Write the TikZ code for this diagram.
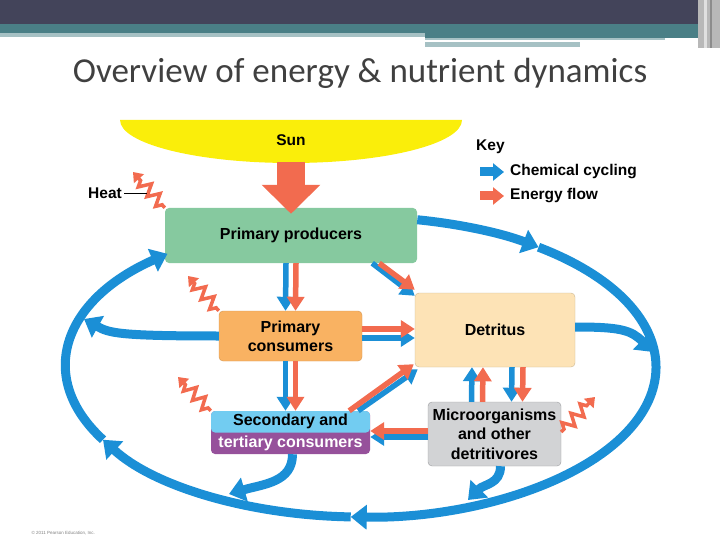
\documentclass[tikz,border=0pt]{standalone}
\usepackage{fontspec}
\setmainfont{Liberation Sans}
\newfontfamily\titlefont{Carlito}
\usetikzlibrary{
  arrows.meta,
  positioning,
  calc,
  decorations.pathmorphing
}
\definecolor{ecoCyc}{HTML}{1B8FD6}
\definecolor{ecoEn}{HTML}{F26B4F}
\definecolor{ecoSun}{HTML}{FAEE0A}
\definecolor{ecoProd}{HTML}{86C99F}
\definecolor{ecoPrim}{HTML}{F9B262}
\definecolor{ecoDetr}{HTML}{FDE3B6}
\definecolor{ecoSec}{HTML}{72CCF1}
\definecolor{ecoTert}{HTML}{96519B}
\definecolor{ecoMicro}{HTML}{D2D3D5}
\definecolor{hdDark}{HTML}{43445A}
\definecolor{hdTeal}{HTML}{4A7F86}
\definecolor{hdLight}{HTML}{A6C1C4}
\definecolor{ecoTitle}{HTML}{404040}
\tikzset{
  econode/.style={
    rounded corners=4pt, inner sep=0pt, align=center,
    font=\fontsize{16}{19}\selectfont\bfseries
  },
  prodbox/.style={econode, fill=ecoProd, minimum width=252pt, minimum height=55pt},
  primbox/.style={econode, fill=ecoPrim, draw=ecoPrim!85!black, line width=0.4pt, minimum width=143pt, minimum height=50pt},
  detrbox/.style={econode, fill=ecoDetr, draw=ecoDetr!80!black, line width=0.4pt, minimum width=160pt, minimum height=74pt},
  secbox/.style={econode, fill=ecoTert, minimum width=159pt, minimum height=43pt,
    font=\fontsize{16}{21.5}\selectfont\bfseries,
    path picture={\fill[ecoSec] (path picture bounding box.north west) rectangle (path picture bounding box.east);}},
  microbox/.style={econode, fill=ecoMicro, draw=ecoMicro!75!black, line width=0.4pt, minimum width=133pt, minimum height=64pt,
    font=\fontsize{16}{19.5}\selectfont\bfseries},
  keytext/.style={font=\fontsize{15.5}{18}\selectfont\bfseries, inner sep=0pt},
  cyc/.style={draw=ecoCyc, line width=9pt, -{Triangle[length=16pt, width=24pt]}},
  pairarr/.style={line width=5.5pt, -{Triangle[length=14pt, width=17pt]}},
  en/.style={pairarr, draw=ecoEn},
  ch/.style={pairarr, draw=ecoCyc},
  keyarr/.style={line width=9pt, -{Triangle[length=11pt, width=17pt]}},
  sunarr/.style={draw=ecoEn, line width=28pt, -{Triangle[length=29pt, width=57pt]}},
  heat/.style={draw=ecoEn, line width=3.5pt, -{Triangle[length=9pt, width=13pt]},
    decorate, decoration={zigzag, segment length=13pt, amplitude=6pt, pre length=4pt, post length=9pt}}
}
\begin{document}
\begin{tikzpicture}[x=1pt, y=-1pt]
  \useasboundingbox (0,0) rectangle (720,540);
  % slide header
  \fill[hdDark] (0,0) rectangle (698,24);
  \fill[hdTeal] (0,24) rectangle (698,33);
  \fill[hdLight] (0,33) rectangle (425,37);
  \fill[hdTeal] (425,33) rectangle (698,38);
  \fill[hdLight] (425,38) rectangle (665,40);
  \fill[hdLight] (425,42) rectangle (580,47);
  \fill[black!28] (698,0) rectangle (720,48);
  \fill[black!12] (704,0) rectangle (707,48);
  \fill[black!45] (710,0) rectangle (712,48);
  \node[font=\titlefont\fontsize{35}{40}\selectfont, text=ecoTitle] (title) at (360,73)
    {Overview of energy \& nutrient dynamics};

  % sun
  \fill[ecoSun] (120,120) -- (462,120) arc[start angle=0, end angle=180, x radius=171, y radius=43] -- cycle;
  \node[keytext] (sun) at (291,140) {Sun};
  \coordinate (sunbase) at (291,162);

  % boxes
  \node[prodbox] (prod) at (291,235.5) {Primary producers};
  \node[primbox] (prim) at (290.5,336) {Primary\\consumers};
  \node[detrbox] (detr) at (495,330) {Detritus};
  \node[secbox] (sec) at (290.5,432.5) {Secondary and\\\textcolor{white}{tertiary consumers}};
  \node[microbox] (micro) at (494.5,434) {Microorganisms\\and other\\detritivores};

  \draw[sunarr] (sunbase) -- ([yshift=-6pt]prod.north);

  % key
  \node[keytext, anchor=west] (key) at (476,147) {Key};
  \coordinate (kc1) at (480,172);
  \coordinate (kc2) at (504,172);
  \coordinate (ke1) at (480,196);
  \coordinate (ke2) at (504,196);
  \draw[keyarr, draw=ecoCyc] (kc1) -- (kc2);
  \draw[keyarr, draw=ecoEn] (ke1) -- (ke2);
  \node[keytext, right=6pt of kc2] (kcyc) {Chemical cycling};
  \node[keytext, right=6pt of ke2] (ken) {Energy flow};

  % chemical cycling loop
  \coordinate (ell) at (361,367);
  \draw[cyc] ($(ell)+(-79:295 and 150)$) arc[start angle=-79, end angle=-53, x radius=295, y radius=150];
  \draw[cyc] ($(ell)+(-53:295 and 150)$) arc[start angle=-53, end angle=92, x radius=295, y radius=150];
  \draw[cyc] ($(ell)+(92:295 and 150)$) arc[start angle=92, end angle=151, x radius=295, y radius=150];
  \draw[cyc] ($(ell)+(151:295 and 150)$) arc[start angle=151, end angle=229, x radius=295, y radius=150];

  % branches into the loop
  \coordinate (rjoin) at (653,352);
  \coordinate (ljoin) at (84,319);
  \coordinate (sjoin) at (229,494);
  \coordinate (mjoin) at (468,500);
  \draw[cyc] ([yshift=3pt]detr.east) .. controls +(45,0) and +(-22,-22) .. (rjoin);
  \draw[cyc] (prim.west) .. controls +(-100,0) and +(25,14) .. (ljoin);
  \draw[cyc] ([xshift=2pt]sec.south) .. controls +(0,28) and +(35,-10) .. (sjoin);
  \draw[cyc] ([xshift=6pt]micro.south) .. controls +(0,18) and +(16,-16) .. (mjoin);

  % paired flows
  \draw[ch] ([xshift=-5pt]prod.south) -- ([xshift=-5pt]prim.north);
  \draw[en] ([xshift=5pt]prod.south) -- ([xshift=5pt]prim.north);
  \draw[ch] ([xshift=-45pt]prod.south east) -- ([yshift=-3pt]detr.north west);
  \draw[en] ([xshift=-38pt]prod.south east) -- ([yshift=3pt]detr.north west);
  \draw[ch] ([yshift=-2pt]prim.east) -- ([yshift=-8pt]detr.west);
  \draw[en] ([yshift=7pt]prim.east) -- ([yshift=1pt]detr.west);
  \draw[ch] ([xshift=-5pt]prim.south) -- ([xshift=-5pt]sec.north);
  \draw[en] ([xshift=5pt]prim.south) -- ([xshift=5pt]sec.north);
  \draw[ch] ([xshift=-12pt]sec.north east) -- ([xshift=3pt, yshift=-2pt]detr.south west);
  \draw[en] ([xshift=-21pt]sec.north east) -- ([xshift=-1pt, yshift=3pt]detr.south west);
  \draw[ch] ([xshift=17pt]detr.south) -- ([xshift=17pt]micro.north);
  \draw[en] ([xshift=28pt]detr.south) -- ([xshift=28pt]micro.north);
  \draw[ch] ([xshift=-23pt]micro.north) -- ([xshift=-23pt]detr.south);
  \draw[en] ([xshift=-12pt]micro.north) -- ([xshift=-12pt]detr.south);
  \draw[ch] ([yshift=-3pt]micro.west) -- ([yshift=-4.5pt]sec.east);
  \draw[en] ([yshift=3pt]micro.west) -- ([yshift=1.5pt]sec.east);

  % heat losses
  \coordinate (h1) at (133,172);
  \coordinate (h2) at (188,276);
  \coordinate (h3) at (178,377);
  \coordinate (h4) at (595,397);
  \draw[heat] (prod.north west) -- (h1);
  \draw[heat] (prim.north west) -- (h2);
  \draw[heat] (sec.north west) -- (h3);
  \draw[heat] ([yshift=2pt]micro.east) -- (h4);
  \node[keytext, anchor=east] (heatlbl) at (122,193) {Heat};
  \coordinate (heatpt) at (147,193);
  \draw[line width=0.8pt] ([xshift=2pt]heatlbl.east) -- (heatpt);

  \node[anchor=west, font=\fontsize{4.5}{5}\selectfont, text=black!50] (copy) at (28,533)
    {\textcopyright\ 2011 Pearson Education, Inc.};
\end{tikzpicture}
\end{document}
